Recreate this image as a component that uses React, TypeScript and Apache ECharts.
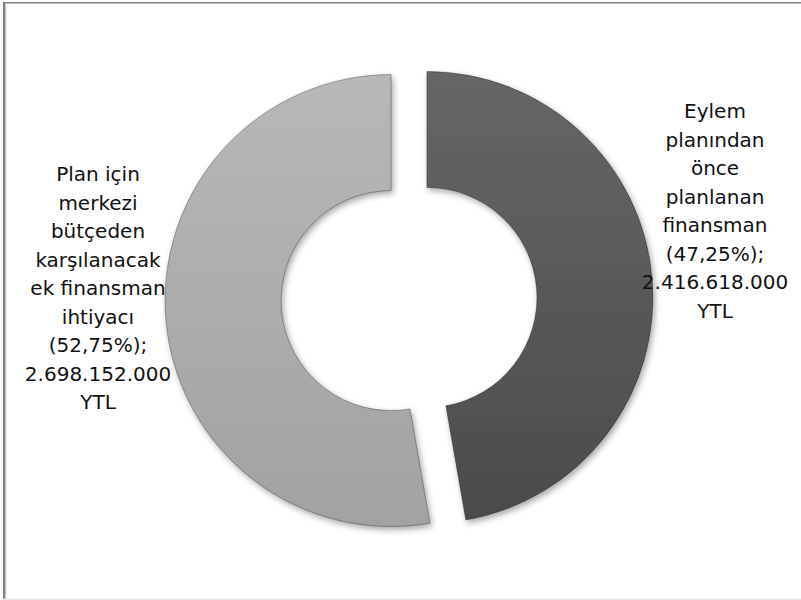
import React, { useEffect, useRef } from "react";
import * as echarts from "echarts";

const categories = [
  "Eylem\nplanından\nönce\nplanlanan\nfinansman",
  "Plan için\nmerkezi\nbütçeden\nkarşılanacak\nek finansman\nihtiyacı",
];
const values = [2416618000, 2698152000];
const unit = "YTL";

const fmtNum = (v: number) => String(Math.round(v)).replace(/\B(?=(\d{3})+(?!\d))/g, ".");

export default function App() {
  const ref = useRef<HTMLDivElement>(null);
  useEffect(() => {
    if (!ref.current) return;
    const chart = echarts.init(ref.current, undefined, { renderer: "svg" });
    const total = values.reduce((a, b) => a + b, 0);
    const labelTexts = categories.map(
      (name, i) =>
        `${name}\n(${((values[i] / total) * 100).toFixed(2).replace(".", ",")}%);\n${fmtNum(values[i])}\n${unit}`
    );
    const fills = [
      new echarts.graphic.LinearGradient(0, 0, 0, 1, [
        { offset: 0, color: "#666666" },
        { offset: 1, color: "#4b4b4b" },
      ]),
      new echarts.graphic.LinearGradient(0, 0, 0, 1, [
        { offset: 0, color: "#b8b8b8" },
        { offset: 1, color: "#a2a2a2" },
      ]),
    ];
    const labelPos = [
      [715, 211],
      [98, 288],
    ];
    chart.setOption({
      animation: false,
      backgroundColor: "#ffffff",
      graphic: [
        { type: "rect", shape: { x: 3, y: 2, width: 2.5, height: 598 }, style: { fill: "#7f7f7f" } },
        { type: "rect", shape: { x: 3, y: 2, width: 798, height: 1.6 }, style: { fill: "#7f7f7f" } },
        { type: "rect", shape: { x: 5.5, y: 3.6, width: 1, height: 596 }, style: { fill: "#d8d8d8" } },
        { type: "rect", shape: { x: 3, y: 598.5, width: 798, height: 1.5 }, style: { fill: "#e6e6e6" } },
        ...labelTexts.map((t, i) => ({
          type: "text",
          x: labelPos[i][0],
          y: labelPos[i][1],
          z: 100,
          style: {
            text: t,
            fill: "#111111",
            fontFamily: "DejaVu Sans",
            fontSize: 20,
            lineHeight: 28.5,
            align: "center",
            verticalAlign: "middle",
          },
        })),
      ],
      series: [
        {
          type: "pie",
          center: [409, 299],
          radius: [110, 226],
          startAngle: 90,
          clockwise: true,
          selectedMode: "multiple",
          selectedOffset: 18,
          avoidLabelOverlap: false,
          emphasis: { disabled: true },
          labelLine: { show: false },
          label: { show: false },
          data: categories.map((name, i) => ({
            name,
            value: values[i],
            selected: true,
            itemStyle: {
              color: fills[i],
              borderColor: "rgba(0,0,0,0.3)",
              borderWidth: 1,
              shadowBlur: 6,
              shadowColor: "rgba(0,0,0,0.35)",
              shadowOffsetX: 2,
              shadowOffsetY: 3,
            },
            select: {
              itemStyle: {
                color: fills[i],
                borderColor: "rgba(0,0,0,0.3)",
                borderWidth: 1,
              },
            },
          })),
        },
      ],
    });
    return () => chart.dispose();
  }, []);
  return (
    <div
      ref={ref}
      style={{ position: "fixed", left: 0, top: 0, width: 801, height: 600 }}
    />
  );
}
